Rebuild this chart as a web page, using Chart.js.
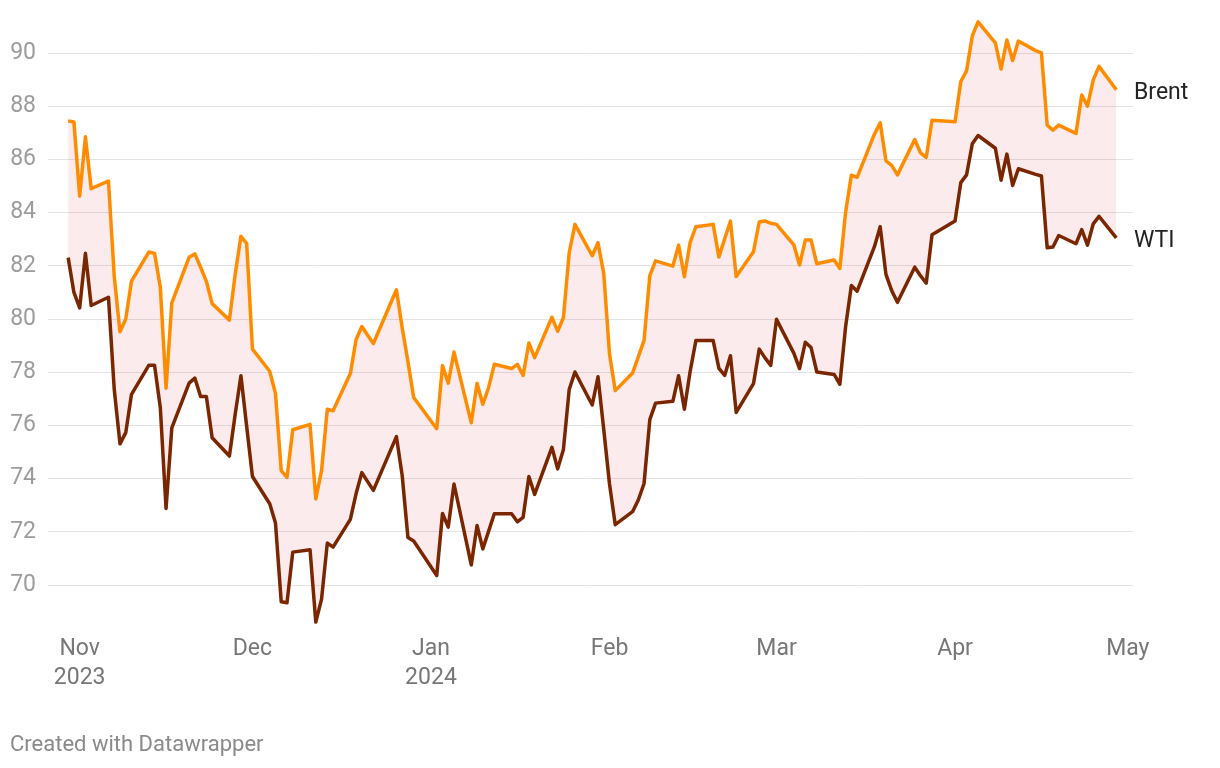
<!DOCTYPE html>
<html>
<head>
<meta charset="utf-8">
<script src="https://cdn.jsdelivr.net/npm/chart.js@4.4.1/dist/chart.umd.min.js"></script>
<style>
  html, body { margin: 0; padding: 0; background: #fff; }
  #wrap { position: relative; width: 1220px; height: 768px; }
</style>
</head>
<body>
<div id="wrap"><canvas id="oil" width="1220" height="768"></canvas></div>
<script>
// trading days, Oct 30 2023 - Apr 29 2024
const dates = [
  '2023-10-30','2023-10-31','2023-11-01','2023-11-02','2023-11-03',
  '2023-11-06','2023-11-07','2023-11-08','2023-11-09','2023-11-10',
  '2023-11-13','2023-11-14','2023-11-15','2023-11-16','2023-11-17',
  '2023-11-20','2023-11-21','2023-11-22','2023-11-23','2023-11-24',
  '2023-11-27','2023-11-28','2023-11-29','2023-11-30','2023-12-01',
  '2023-12-04','2023-12-05','2023-12-06','2023-12-07','2023-12-08',
  '2023-12-11','2023-12-12','2023-12-13','2023-12-14','2023-12-15',
  '2023-12-18','2023-12-19','2023-12-20','2023-12-21','2023-12-22',
  '2023-12-26','2023-12-27','2023-12-28','2023-12-29',
  '2024-01-02','2024-01-03','2024-01-04','2024-01-05',
  '2024-01-08','2024-01-09','2024-01-10','2024-01-11','2024-01-12',
  '2024-01-15','2024-01-16','2024-01-17','2024-01-18','2024-01-19',
  '2024-01-22','2024-01-23','2024-01-24','2024-01-25','2024-01-26',
  '2024-01-29','2024-01-30','2024-01-31','2024-02-01','2024-02-02',
  '2024-02-05','2024-02-06','2024-02-07','2024-02-08','2024-02-09',
  '2024-02-12','2024-02-13','2024-02-14','2024-02-15','2024-02-16',
  '2024-02-19','2024-02-20','2024-02-21','2024-02-22','2024-02-23',
  '2024-02-26','2024-02-27','2024-02-28','2024-02-29','2024-03-01',
  '2024-03-04','2024-03-05','2024-03-06','2024-03-07','2024-03-08',
  '2024-03-11','2024-03-12','2024-03-13','2024-03-14','2024-03-15',
  '2024-03-18','2024-03-19','2024-03-20','2024-03-21','2024-03-22',
  '2024-03-25','2024-03-26','2024-03-27','2024-03-28',
  '2024-04-01','2024-04-02','2024-04-03','2024-04-04','2024-04-05',
  '2024-04-08','2024-04-09','2024-04-10','2024-04-11','2024-04-12',
  '2024-04-15','2024-04-16','2024-04-17','2024-04-18','2024-04-19',
  '2024-04-22','2024-04-23','2024-04-24','2024-04-25','2024-04-26',
  '2024-04-29'
];

const brent = [
  87.45, 87.41, 84.62, 86.85, 84.90,
  85.19, 81.61, 79.52, 80.00, 81.43,
  82.52, 82.47, 81.20, 77.40, 80.61,
  82.32, 82.45, 81.95, 81.42, 80.58,
  79.96, 81.68, 83.11, 82.84, 78.87,
  78.04, 77.20, 74.30, 74.05, 75.84,
  76.04, 73.24, 74.30, 76.61, 76.55,
  77.95, 79.23, 79.72, 79.39, 79.08,
  81.10, 79.67, 78.40, 77.05,
  75.88, 78.25, 77.59, 78.76,
  76.10, 77.59, 76.80, 77.42, 78.30,
  78.14, 78.30, 77.88, 79.10, 78.55,
  80.07, 79.54, 80.06, 82.49, 83.56,
  82.38, 82.87, 81.72, 78.69, 77.31,
  77.97, 78.58, 79.20, 81.63, 82.19,
  81.99, 82.78, 81.59, 82.88, 83.47,
  83.56, 82.33, 83.02, 83.68, 81.60,
  82.53, 83.65, 83.69, 83.60, 83.56,
  82.79, 82.03, 82.97, 82.97, 82.08,
  82.22, 81.90, 84.02, 85.41, 85.33,
  86.95, 87.38, 85.95, 85.78, 85.42,
  86.75, 86.25, 86.08, 87.47,
  87.42, 88.93, 89.33, 90.65, 91.17,
  90.38, 89.40, 90.49, 89.72, 90.45,
  90.09, 90.01, 87.29, 87.10, 87.29,
  86.98, 88.42, 88.00, 88.99, 89.50,
  88.62
];

const wti = [
  82.31, 81.00, 80.42, 82.47, 80.51,
  80.82, 77.36, 75.31, 75.73, 77.17,
  78.26, 78.26, 76.68, 72.88, 75.91,
  77.59, 77.78, 77.09, 77.09, 75.54,
  74.85, 76.41, 77.87, 75.96, 74.08,
  73.06, 72.33, 69.37, 69.34, 71.24,
  71.33, 68.61, 69.47, 71.58, 71.43,
  72.47, 73.44, 74.23, 73.89, 73.56,
  75.58, 74.12, 71.79, 71.66,
  70.36, 72.69, 72.18, 73.80,
  70.76, 72.24, 71.36, 72.02, 72.68,
  72.68, 72.38, 72.55, 74.08, 73.41,
  75.18, 74.37, 75.10, 77.35, 78.01,
  76.77, 77.83, 75.85, 73.80, 72.27,
  72.76, 73.20, 73.82, 76.22, 76.84,
  76.91, 77.87, 76.61, 78.03, 79.19,
  79.19, 78.15, 77.88, 78.62, 76.49,
  77.57, 78.87, 78.54, 78.26, 79.99,
  78.72, 78.14, 79.13, 78.93, 78.01,
  77.92, 77.55, 79.72, 81.26, 81.05,
  82.72, 83.47, 81.68, 81.07, 80.63,
  81.95, 81.63, 81.35, 83.17,
  83.69, 85.13, 85.42, 86.59, 86.90,
  86.42, 85.22, 86.20, 85.02, 85.65,
  85.44, 85.38, 82.68, 82.71, 83.14,
  82.83, 83.36, 82.78, 83.58, 83.86,
  83.05
];

const yTicks = [70, 72, 74, 76, 78, 80, 82, 84, 86, 88, 90];
const monthTicks = ['2023-11-01','2023-12-01','2024-01-01','2024-02-01','2024-03-01','2024-04-01','2024-05-01'];
const monthLabels = [['Nov', '2023'], 'Dec', ['Jan', '2024'], 'Feb', 'Mar', 'Apr', 'May'];

const origin = Date.parse('2023-11-01');
const dayOf = s => (Date.parse(s) - origin) / 86400000;

const endLabels = {
  id: 'endLabels',
  afterDatasetsDraw(chart) {
    const { ctx, chartArea, scales } = chart;
    ctx.save();
    ctx.font = '23px Roboto';
    ctx.fillStyle = '#222';
    ctx.textBaseline = 'middle';
    chart.data.datasets.forEach(ds => {
      const last = ds.data[ds.data.length - 1];
      ctx.fillText(ds.label, chartArea.right + 1, scales.y.getPixelForValue(last.y) + 3);
    });
    ctx.font = '22px Roboto';
    ctx.fillStyle = '#8a8a8a';
    ctx.fillText('Created with Datawrapper', 10, 745);
    ctx.restore();
  }
};

new Chart(document.getElementById('oil'), {
  type: 'line',
  data: {
    datasets: [
      {
        label: 'Brent',
        data: dates.map((d, i) => ({ x: dayOf(d), y: brent[i] })),
        borderColor: '#ff8c00',
        borderWidth: 3.5,
        pointRadius: 0,
        tension: 0,
        fill: false
      },
      {
        label: 'WTI',
        data: dates.map((d, i) => ({ x: dayOf(d), y: wti[i] })),
        borderColor: '#7a2600',
        borderWidth: 3.5,
        pointRadius: 0,
        tension: 0,
        fill: '-1',
        backgroundColor: 'rgba(220, 60, 80, 0.1)'
      }
    ]
  },
  options: {
    responsive: false,
    animation: false,
    borderJoinStyle: 'round',
    layout: { padding: { top: 15, right: 87, left: 0, bottom: 0 } },
    plugins: { legend: { display: false }, tooltip: { enabled: false } },
    scales: {
      x: {
        type: 'linear',
        min: -5.5,
        max: 182.9,
        grid: { display: false },
        border: { display: false },
        afterBuildTicks: s => { s.ticks = monthTicks.map(m => ({ value: dayOf(m) })); },
        afterFit: s => { s.height = 143; },
        ticks: {
          autoSkip: false,
          maxRotation: 0,
          padding: 2,
          color: '#777',
          font: { family: 'Roboto', size: 23, lineHeight: '29px' },
          callback: (v, i) => monthLabels[i]
        }
      },
      y: {
        min: 68.5,
        max: 91.43,
        afterBuildTicks: s => { s.ticks = yTicks.map(v => ({ value: v })); },
        afterFit: s => { s.width = 48; s.paddingTop = 0; s.paddingBottom = 0; },
        grid: { color: '#e3e3e3', drawTicks: false },
        border: { display: false },
        ticks: {
          padding: 12,
          color: '#9c9c9c',
          font: { family: 'Roboto', size: 23 }
        }
      }
    }
  },
  plugins: [endLabels]
});
</script>
</body>
</html>
